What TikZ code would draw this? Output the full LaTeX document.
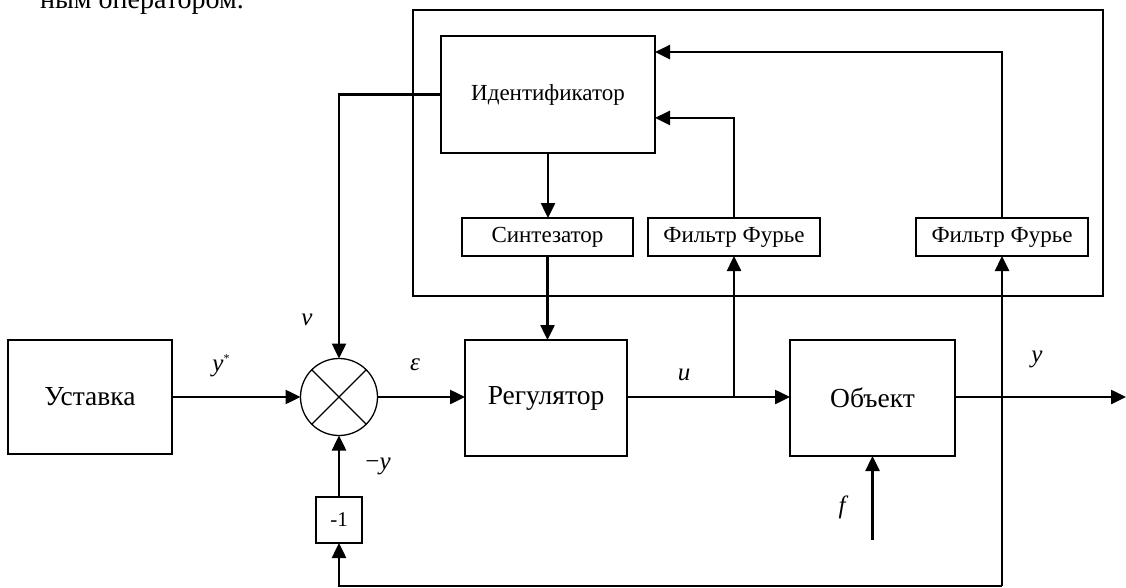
\documentclass[tikz,border=0pt]{standalone}
\usepackage{fontspec}
\setmainfont{Liberation Serif}
\usetikzlibrary{arrows.meta,calc}
\begin{document}
\begin{tikzpicture}[x=1pt,y=-1pt,
  blk/.style={draw, line width=1.3pt, inner sep=0pt, outer sep=0pt},
  conn/.style={line width=2.5pt, -{Triangle[length=15pt,width=14pt]}},
  big/.style={font=\fontsize{27.5}{32}\selectfont},
  small/.style={font=\fontsize{23}{27}\selectfont},
  lab/.style={font=\fontsize{25}{29}\selectfont\itshape, inner sep=0pt}]
\useasboundingbox (0,0) rectangle (1126,588);

% tail of the preceding sentence, cut by the page edge
\begin{scope}
  \clip (0,0) rectangle (1126,588);
  \node[anchor=base east, font=\fontsize{28}{32}\selectfont, inner sep=0pt] (hdr) at (244,9) {ным оператором.};
\end{scope}

% adaptive part
\node[blk, minimum width=690pt, minimum height=286pt] (frame) at (758,153) {};
\node[blk, minimum width=214pt, minimum height=117pt, small] (ident) at (548,94.5) {Идентификатор};
\node[blk, minimum width=171pt, minimum height=38pt, small] (synth) at (547.5,237) {Синтезатор};
\node[blk, minimum width=172pt, minimum height=38pt, small] (four1) at (734,237) {Фильтр Фурье};
\node[blk, minimum width=172pt, minimum height=38pt, small] (four2) at (1002,237) {Фильтр Фурье};

% main loop
\node[blk, minimum width=164pt, minimum height=114pt, big] (ust) at (90,397) {Уставка};
\node[blk, circle, minimum size=77pt] (sum) at (339,397) {};
\draw[line width=1.1pt] (sum.north east) -- (sum.south west) (sum.north west) -- (sum.south east);
\node[blk, minimum width=162pt, minimum height=116pt, big] (reg) at (546,398) {Регулятор};
\node[blk, minimum width=165pt, minimum height=116pt, big] (obj) at (872.5,398) {Объект};
\node[blk, minimum width=46pt, minimum height=46pt, font=\fontsize{21}{25}\selectfont] (neg) at (339,520) {-1};

\coordinate (br) at (four1.south |- sum.east);
\coordinate (outend) at (1126,397);
\coordinate (fin) at (872.5,540);
\coordinate (fb) at (four2.south |- 0,586);

% connectors
\draw[conn] (ust.east) -- (sum.west);
\draw[conn] (sum.east) -- (reg.west |- sum.east);
\draw[conn] (reg.east |- sum.east) -- (obj.west |- sum.east);
\draw[conn] (br) -- (four1.south);
\draw[conn] (obj.east |- sum.east) -- (outend);
\draw[conn] (ident.south) -- (ident.south |- synth.north);
\draw[conn] (synth.south) -- (synth.south |- reg.north);
\draw[conn] (four1.north) |- ($(ident.north east)!0.70!(ident.south east)$);
\draw[conn] (four2.north) |- ($(ident.north east)!0.137!(ident.south east)$);
\draw[conn] (ident.west) -| (sum.north);
\draw[conn] (fin) -- (obj.south);
\draw[conn] (fb) -- (four2.south);
\draw[conn] (fb) -| (neg.south);
\draw[conn] (neg.north) -- (sum.south);

% signal labels
\node[lab] (lys) at (221,366) {y\raisebox{9pt}{\fontsize{12}{12}\selectfont\upshape*}};
\node[lab] (lnu) at (307,320) {ν};
\node[lab] (leps) at (415,365) {ε};
\node[lab] (lu) at (684,375) {u};
\node[lab] (ly) at (1037,359) {y};
\node[lab] (lmy) at (378,466) {\upshape−\itshape y};
\node[lab] (lf) at (842,507) {f};
\end{tikzpicture}
\end{document}
